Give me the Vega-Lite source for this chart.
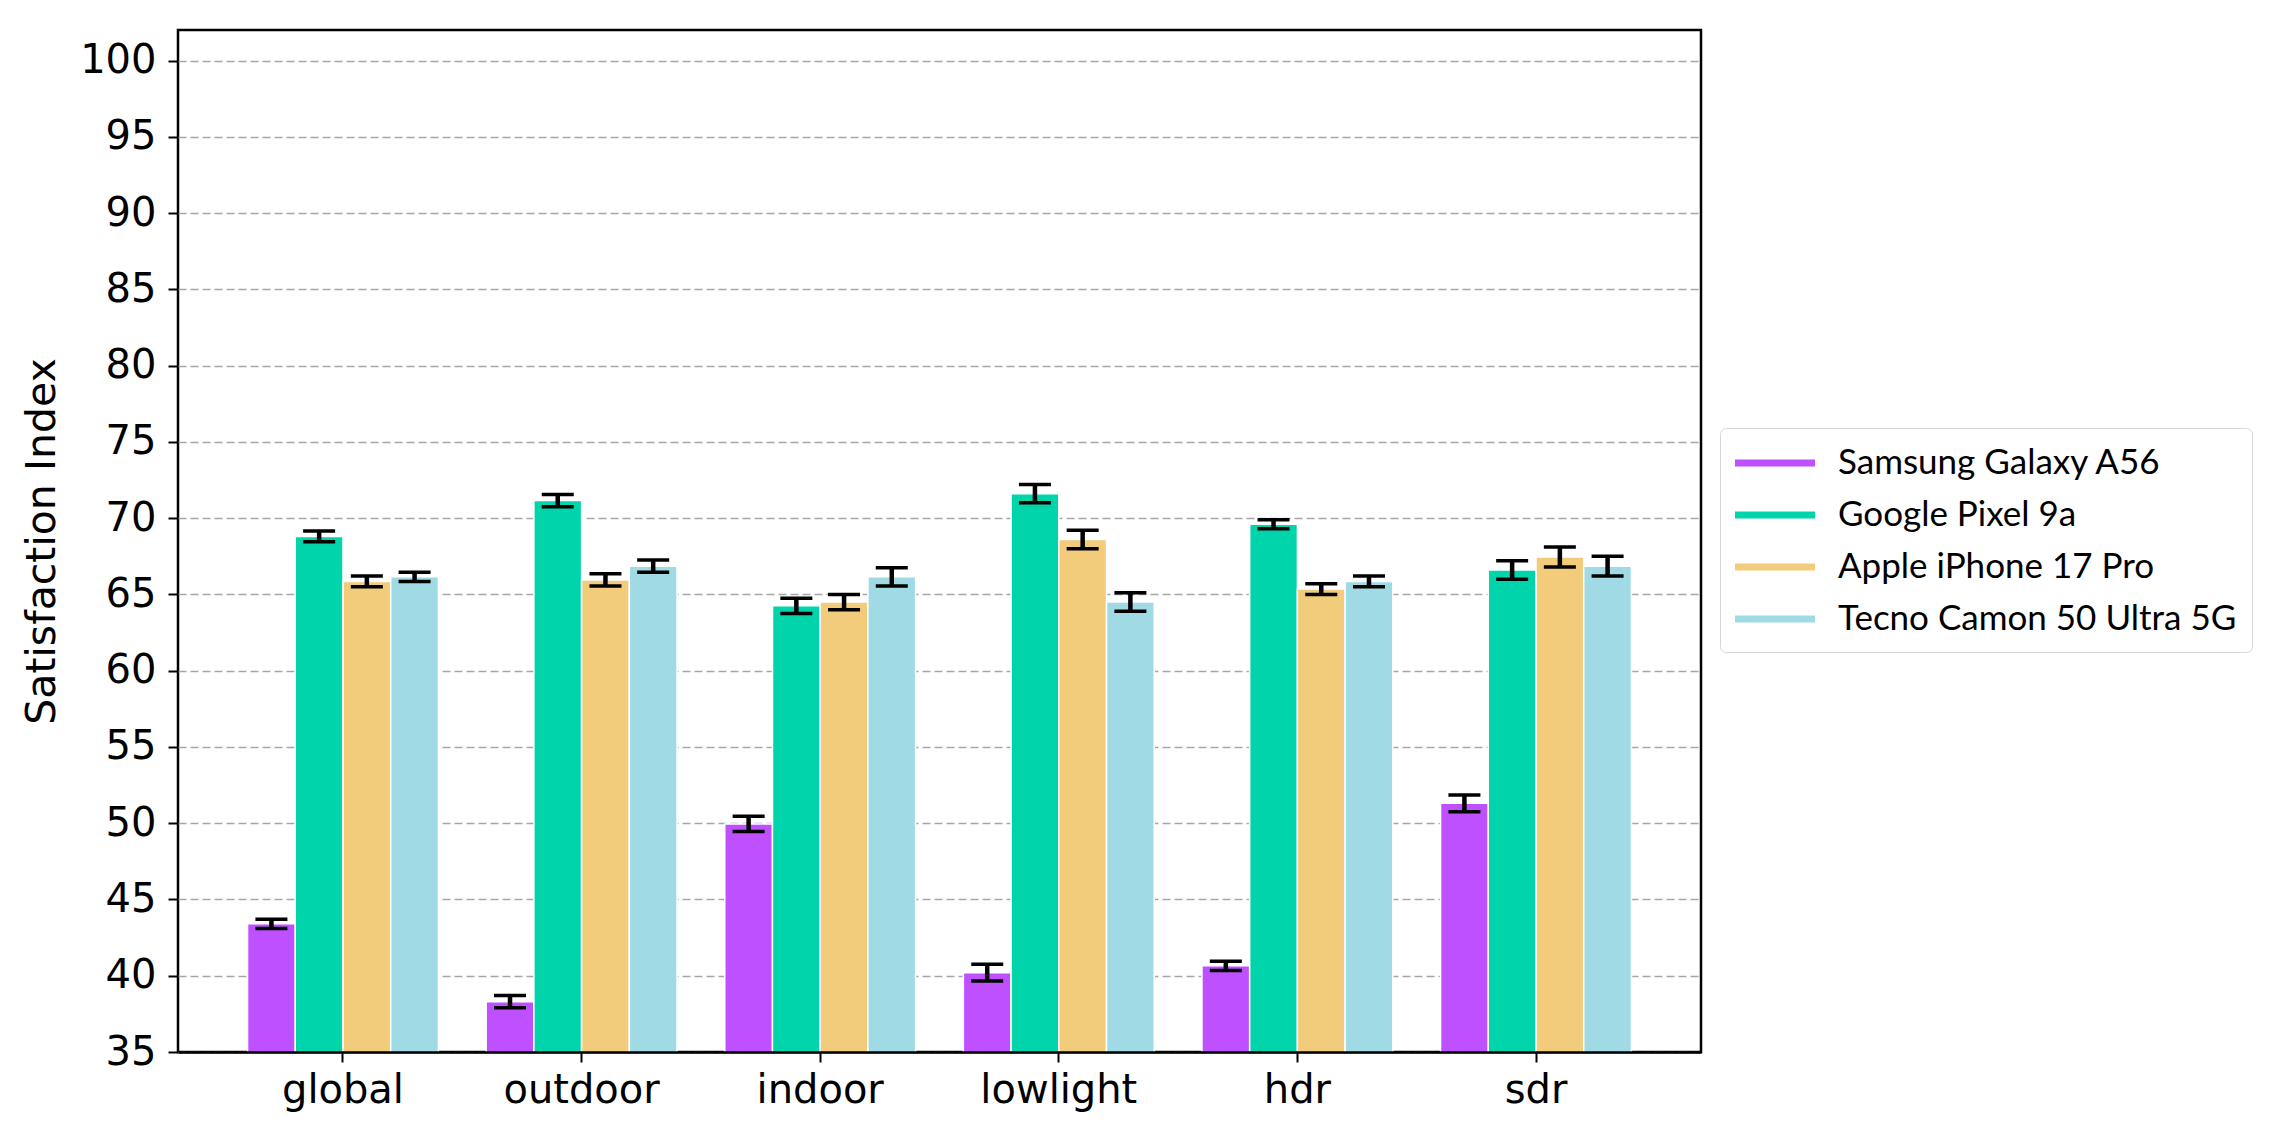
{
  "$schema": "https://vega.github.io/schema/vega-lite/v6.json",
  "width": 1523,
  "height": 1022,
  "autosize": {"type": "none"},
  "padding": {"left": 178, "top": 30, "right": 574, "bottom": 86},
  "background": "white",
  "config": {"view": {"stroke": "black", "strokeWidth": 2.5}, "font": "DejaVu Sans"},
  "data": {"values": [
    {"category": "global", "device": "Samsung Galaxy A56", "value": 43.4, "lo": 43.1, "hi": 43.7},
    {"category": "global", "device": "Google Pixel 9a", "value": 68.8, "lo": 68.45, "hi": 69.15},
    {"category": "global", "device": "Apple iPhone 17 Pro", "value": 65.85, "lo": 65.5, "hi": 66.2},
    {"category": "global", "device": "Tecno Camon 50 Ultra 5G", "value": 66.15, "lo": 65.85, "hi": 66.45},
    {"category": "outdoor", "device": "Samsung Galaxy A56", "value": 38.3, "lo": 37.9, "hi": 38.7},
    {"category": "outdoor", "device": "Google Pixel 9a", "value": 71.15, "lo": 70.75, "hi": 71.55},
    {"category": "outdoor", "device": "Apple iPhone 17 Pro", "value": 65.95, "lo": 65.55, "hi": 66.35},
    {"category": "outdoor", "device": "Tecno Camon 50 Ultra 5G", "value": 66.85, "lo": 66.45, "hi": 67.25},
    {"category": "indoor", "device": "Samsung Galaxy A56", "value": 49.95, "lo": 49.45, "hi": 50.45},
    {"category": "indoor", "device": "Google Pixel 9a", "value": 64.25, "lo": 63.75, "hi": 64.75},
    {"category": "indoor", "device": "Apple iPhone 17 Pro", "value": 64.5, "lo": 64.0, "hi": 65.0},
    {"category": "indoor", "device": "Tecno Camon 50 Ultra 5G", "value": 66.15, "lo": 65.55, "hi": 66.75},
    {"category": "lowlight", "device": "Samsung Galaxy A56", "value": 40.2, "lo": 39.65, "hi": 40.75},
    {"category": "lowlight", "device": "Google Pixel 9a", "value": 71.6, "lo": 71.0, "hi": 72.2},
    {"category": "lowlight", "device": "Apple iPhone 17 Pro", "value": 68.6, "lo": 68.0, "hi": 69.2},
    {"category": "lowlight", "device": "Tecno Camon 50 Ultra 5G", "value": 64.5, "lo": 63.9, "hi": 65.1},
    {"category": "hdr", "device": "Samsung Galaxy A56", "value": 40.65, "lo": 40.35, "hi": 40.95},
    {"category": "hdr", "device": "Google Pixel 9a", "value": 69.6, "lo": 69.3, "hi": 69.9},
    {"category": "hdr", "device": "Apple iPhone 17 Pro", "value": 65.35, "lo": 65.0, "hi": 65.7},
    {"category": "hdr", "device": "Tecno Camon 50 Ultra 5G", "value": 65.85, "lo": 65.5, "hi": 66.2},
    {"category": "sdr", "device": "Samsung Galaxy A56", "value": 51.3, "lo": 50.75, "hi": 51.85},
    {"category": "sdr", "device": "Google Pixel 9a", "value": 66.6, "lo": 66.0, "hi": 67.2},
    {"category": "sdr", "device": "Apple iPhone 17 Pro", "value": 67.45, "lo": 66.8, "hi": 68.1},
    {"category": "sdr", "device": "Tecno Camon 50 Ultra 5G", "value": 66.85, "lo": 66.2, "hi": 67.5}
  ]},
  "encoding": {
    "x": {
      "field": "category", "type": "nominal",
      "sort": ["global", "outdoor", "indoor", "lowlight", "hdr", "sdr"],
      "scale": {"paddingInner": 0.2, "paddingOuter": 0.2915},
      "axis": {
        "title": null, "labelAngle": 0, "labelFont": "DejaVu Sans", "labelFontSize": 40,
        "labelColor": "black", "labelPadding": 8, "tickSize": 10, "tickWidth": 2,
        "tickColor": "black", "domain": true, "domainColor": "black", "domainWidth": 2.5,
        "grid": false, "bandPosition": 0.5, "zindex": 1
      }
    },
    "xOffset": {
      "field": "device", "type": "nominal",
      "sort": ["Samsung Galaxy A56", "Google Pixel 9a", "Apple iPhone 17 Pro", "Tecno Camon 50 Ultra 5G"],
      "scale": {"paddingInner": 0, "paddingOuter": 0}
    }
  },
  "layer": [
    {
      "mark": {"type": "bar", "stroke": "white", "strokeWidth": 1.5, "clip": true},
      "encoding": {
        "y": {
          "field": "value", "type": "quantitative",
          "scale": {"domain": [35, 102], "nice": false, "zero": false},
          "axis": {
            "values": [35, 40, 45, 50, 55, 60, 65, 70, 75, 80, 85, 90, 95, 100],
            "title": "Satisfaction Index", "titleFont": "DejaVu Sans", "titleFontSize": 41,
            "titleFontWeight": "normal", "titleColor": "black", "titlePadding": 16,
            "labelFont": "DejaVu Sans", "labelFontSize": 40, "labelColor": "black", "labelPadding": 12,
            "tickSize": 10, "tickWidth": 2, "tickColor": "black", "domain": false,
            "grid": true, "gridDash": [8, 4], "gridColor": "#a6a6a6", "gridWidth": 1.5
          }
        },
        "color": {
          "field": "device", "type": "nominal",
          "sort": ["Samsung Galaxy A56", "Google Pixel 9a", "Apple iPhone 17 Pro", "Tecno Camon 50 Ultra 5G"],
          "scale": {
            "domain": ["Samsung Galaxy A56", "Google Pixel 9a", "Apple iPhone 17 Pro", "Tecno Camon 50 Ultra 5G"],
            "range": ["#BE50FF", "#00D4AA", "#F2CB7B", "#A0DAE4"]
          },
          "legend": {
            "title": null, "orient": "none", "legendX": 1542, "legendY": 398,
            "labelFont": "Lato", "labelFontSize": 35, "labelColor": "black", "labelLimit": 700,
            "symbolType": "M-1,-0.175H3V0.175H-1Z", "symbolSize": 1600, "symbolStrokeWidth": 0,
            "symbolOpacity": 1, "labelOffset": 63, "padding": 15, "rowPadding": 14,
            "strokeColor": "#d6d6d6", "fillColor": "white", "cornerRadius": 6
          }
        }
      }
    },
    {
      "mark": {"type": "rule", "color": "black", "strokeWidth": 4.5},
      "encoding": {
        "y": {"field": "lo", "type": "quantitative"},
        "y2": {"field": "hi"}
      }
    },
    {
      "mark": {"type": "tick", "color": "black", "thickness": 3.5, "size": 32, "opacity": 1},
      "encoding": {"y": {"field": "lo", "type": "quantitative"}}
    },
    {
      "mark": {"type": "tick", "color": "black", "thickness": 3.5, "size": 32, "opacity": 1},
      "encoding": {"y": {"field": "hi", "type": "quantitative"}}
    }
  ]
}
